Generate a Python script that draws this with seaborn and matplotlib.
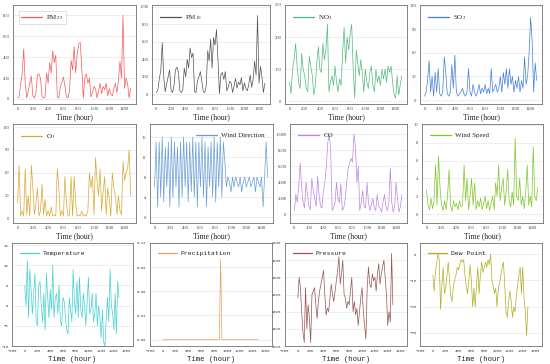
import numpy as np
import pandas as pd
import matplotlib
matplotlib.use("Agg")
import matplotlib.pyplot as plt
import seaborn as sns
from matplotlib.ticker import AutoMinorLocator

hours = list(range(0, 1500, 20))

pm25 = [10, 20, 150, 240, 480, 150, 10, 80, 150, 220, 30, 10, 60, 230, 240, 200, 30, 10, 20, 250,
        150, 350, 250, 460, 350, 420, 20, 10, 120, 160, 210, 120, 20, 10, 80, 370, 280, 500, 250, 420,
        530, 540, 300, 10, 200, 240, 150, 200, 20, 60, 120, 100, 10, 80, 150, 50, 120, 90, 150, 30,
        100, 50, 30, 100, 150, 60, 180, 360, 200, 800, 100, 200, 150, 10, 100]
pm10 = [20, 50, 180, 270, 590, 200, 30, 120, 200, 280, 50, 20, 100, 280, 310, 250, 40, 20, 50, 300,
        200, 400, 300, 530, 420, 470, 30, 20, 150, 200, 260, 150, 30, 20, 100, 500, 380, 630, 300, 650,
        560, 740, 400, 10, 220, 250, 170, 260, 40, 80, 150, 130, 20, 100, 180, 70, 140, 110, 190, 40,
        130, 70, 40, 110, 220, 80, 170, 380, 220, 900, 130, 320, 200, 20, 130]
no2 = [60, 25, 100, 130, 180, 110, 60, 40, 150, 100, 80, 40, 30, 140, 110, 80, 20, 50, 120, 170,
       100, 90, 180, 130, 160, 240, 30, 60, 80, 50, 110, 60, 30, 70, 50, 150, 230, 120, 200, 160,
       210, 240, 100, 10, 160, 120, 80, 130, 90, 30, 100, 60, 40, 90, 110, 50, 30, 100, 60, 80,
       50, 100, 70, 100, 60, 110, 90, 110, 60, 20, 10, 80, 20, 50, 80]
so2 = [5, 10, 25, 50, 10, 30, 5, 35, 10, 40, 8, 5, 10, 55, 35, 8, 5, 10, 45, 15,
       57, 10, 5, 8, 10, 15, 8, 5, 10, 40, 10, 5, 20, 10, 5, 10, 20, 8, 15, 10,
       20, 8, 15, 8, 40, 10, 15, 20, 10, 15, 30, 10, 35, 20, 40, 15, 40, 20, 30, 10,
       25, 15, 30, 10, 25, 15, 55, 20, 30, 60, 105, 75, 10, 47, 25]
o3 = [20, 70, 3, 10, 3, 65, 5, 30, 3, 70, 40, 5, 20, 40, 3, 10, 45, 5, 25, 3,
      10, 3, 15, 3, 5, 3, 65, 40, 3, 10, 3, 55, 20, 3, 5, 55, 3, 55, 20, 3,
      5, 3, 10, 3, 5, 3, 10, 60, 40, 55, 5, 80, 50, 30, 65, 10, 35, 55, 5, 40,
      25, 3, 60, 40, 30, 5, 30, 10, 5, 75, 50, 60, 65, 90, 30]
wind_dir = [6, 15, 2, 15, 4, 16, 3, 14, 6, 15, 2, 16, 4, 15, 6, 14, 2, 15, 4, 16,
            6, 15, 3, 15, 5, 16, 4, 15, 2, 15, 6, 16, 4, 15, 2, 14, 6, 15, 4, 16,
            3, 15, 6, 16, 4, 15, 11, 6, 8, 7, 5, 8, 6, 8, 7, 6, 8, 5, 7, 8,
            6, 7, 8, 6, 7, 8, 5, 8, 7, 6, 8, 2, 8, 15, 8]
co = [500, 2500, 1500, 3500, 6400, 3500, 1500, 800, 4000, 2500, 1000, 600, 4500, 3000, 2000, 1000, 4800, 2500, 1000, 800,
      3000, 4000, 6000, 9000, 10000, 8000, 500, 800, 1500, 4000, 2000, 1500, 3800, 500, 800, 2000, 4000, 5700, 6500, 7000,
      6500, 10000, 8500, 4000, 6000, 500, 1500, 3000, 1000, 800, 4000, 1500, 500, 1200, 2000, 800, 500, 2500, 1000, 800,
      300, 1500, 2500, 1000, 500, 1500, 5800, 1500, 300, 1000, 4000, 2000, 300, 1000, 2500]
wind_speed = [2.7, 1.0, 0.5, 1.8, 0.6, 1.5, 5.5, 1.0, 6.5, 3.0, 1.0, 0.4, 1.5, 0.5, 2.0, 5.0, 1.0, 0.3, 1.5, 0.8,
              1.2, 0.5, 1.5, 0.8, 1.0, 5.5, 1.5, 4.0, 0.5, 2.0, 4.0, 1.0, 3.5, 0.5, 1.5, 0.8, 1.8, 0.5, 1.2, 2.0,
              0.6, 1.5, 0.4, 1.2, 2.0, 0.5, 3.5, 2.0, 5.5, 1.5, 3.0, 4.0, 1.0, 2.5, 5.0, 1.5, 0.8, 2.5, 1.0, 8.5,
              2.0, 1.5, 4.0, 1.0, 2.0, 0.6, 2.5, 5.5, 1.0, 2.0, 0.8, 7.5, 2.0, 1.5, 3.0]
temperature = [5, 0, 11, -3, 9, 4, -2, 3, 8, -4, -5, 5, 6, 0, -4, 3, -6, 8, 2, -3,
               4, -1, 10, -3, 2, 3, -2, 5, -4, -5, 2, 1, -3, -6, -7, 2, -1, -4, 9, 1,
               -2, 6, -3, 7, -1, -3, 3, 0, -5, 1, 7, -2, -1, 3, -4, -2, 3, -5, 0, -3,
               -8, -1, -9, -10, -3, 2, -4, 9, 0, -2, -6, 3, -7, 6, 2]
precipitation = [0.0] * 45 + [0.1] + [0.0] * 29
pressure = [1024, 1030, 1027, 1020, 1014, 1011, 1027, 1015, 1022, 1018, 1011, 1025, 1026, 1027, 1022, 1018, 1023, 1026, 1028, 1030,
            1032, 1025, 1019, 1021, 1020, 1024, 1028, 1025, 1023, 1026, 1029, 1032, 1036, 1028, 1031, 1035, 1025, 1024, 1021, 1023,
            1022, 1026, 1030, 1020, 1023, 1019, 1021, 1016, 1020, 1024, 1027, 1020, 1016, 1012, 1027, 1033, 1028, 1027, 1031, 1029,
            1030, 1026, 1031, 1034, 1028, 1031, 1033, 1035, 1030, 1025, 1016, 1020, 1017, 1037, 1022]
dew_point = [-8, -14, -7, -3, 0, -2, -21, -12, -5, -15, -13, -8, -3, -10, -16, -18, -12, -10, -8, -5,
             -6, -4, -2, -3, -2, -8, -12, -15, -10, -4, -10, -20, -13, -20, -12, -5, -15, -8, -3, -7,
             -5, -3, -5, -2, -4, 0, -10, -12, -15, -13, -20, -13, -11, -8, -5, -3, -12, -22, -24, -18,
             -14, -18, -24, -20, -22, -16, -12, -8, -5, -15, -5, -17, -22, -31, -20]

labels = ["PM$_{2.5}$", "PM$_{10}$", "NO$_2$", "SO$_2$", "O$_3$", "Wind Direction", "CO", "Wind Speed",
          "Temperature", "Precipitation", "Pressure", "Dew Point"]
series = [pm25, pm10, no2, so2, o3, wind_dir, co, wind_speed, temperature, precipitation, pressure, dew_point]
colors = ["#f04848", "#404040", "#3cb371", "#3070d8", "#d4a020", "#5a92d0", "#b47ae0", "#70c010",
          "#30cccc", "#f29040", "#8b4040", "#a8a410"]
yticks = [[0, 200, 400, 600, 800], [0, 200, 400, 600, 800, 1000], [0, 100, 200, 300], [0, 30, 60, 90, 120],
          [0, 30, 60, 90, 120], [0, 4, 8, 12, 16], [0, 2000, 4000, 6000, 8000, 10000], [0, 2, 4, 6, 8, 10],
          [-10, -5, 0, 5, 10, 15], [0.0, 0.03, 0.06, 0.09, 0.12], [1010, 1015, 1020, 1025, 1030, 1035, 1040],
          [-30, -20, -10, 0]]
ylims = [(-48, 900), (-110, 1020), (-8, 300), (-5, 121), (-6, 124), (-1.2, 18.6), (-1070, 11300), (-1.0, 10.1),
         (-10, 15.5), (-0.008, 0.12), (1010, 1040), (-35, 4.3)]

W, H = 550, 364
cols = [[(13, 136), (152, 270), (285, 407), (420, 542)],
        [(13, 136), (150, 273), (290, 407), (422, 543)],
        [(12, 133), (150, 272), (285, 407), (420, 542)]]
rows = [(5, 104), (124, 223), (243, 346)]

sns.set_theme(style="white")
plt.rcParams["font.family"] = ["Liberation Serif", "DejaVu Serif"]
plt.rcParams["mathtext.fontset"] = "stix"
fig = plt.figure(figsize=(5.5, 3.64), dpi=100)
fig.patch.set_facecolor("white")

for k in range(12):
    r, c = divmod(k, 4)
    x0, x1 = cols[r][c]
    y0, y1 = rows[r]
    ax = fig.add_axes([x0 / W, 1 - y1 / H, (x1 - x0) / W, (y1 - y0) / H])
    df = pd.DataFrame({"hour": hours, "value": series[k]})
    mono = r == 2
    fam = ["Liberation Mono", "DejaVu Sans Mono"] if mono else ["Liberation Serif", "DejaVu Serif"]
    sns.lineplot(data=df, x="hour", y="value", ax=ax, color=colors[k], linewidth=0.5, alpha=0.9,
                 label=labels[k])
    ax.set_ylim(*ylims[k])
    ax.set_yticks(yticks[k])
    if r == 2:
        ax.set_xlim(-200, 1700)
        ax.set_xticks(range(-200, 1601, 200))
    else:
        ax.set_xlim(-60, 1550)
        ax.set_xticks(range(0, 1401, 200))
    if k == 9:
        ax.set_yticklabels([f"{v:.2f}" for v in yticks[k]])
    ax.xaxis.set_minor_locator(AutoMinorLocator(2))
    ax.grid(axis="y", color="#e8e8e8", linewidth=0.5)
    ax.set_axisbelow(True)
    for s in ax.spines.values():
        s.set_color("#707070")
        s.set_linewidth(0.6)
    lsize = 2.8 if mono else 3.3
    ax.tick_params(axis="both", which="major", labelsize=lsize, length=1.5, width=0.4, pad=1,
                   colors="#444444", direction="out")
    ax.tick_params(axis="x", which="minor", length=1, width=0.3, direction="out")
    for t in ax.get_xticklabels() + ax.get_yticklabels():
        t.set_family(fam)
    ax.set_xlabel("Time (hour)", fontsize=5.2 if mono else 5.5, family=fam, labelpad=1.5, color="#222222")
    ax.set_ylabel("")
    loc = "upper right" if k == 5 else "upper left"
    leg = ax.legend(loc=loc, frameon=(k == 0), handlelength=3.0, borderaxespad=0.9,
                    borderpad=0.3, handletextpad=0.6,
                    prop={"family": fam, "size": 4.6 if mono else 5})
    if k == 0:
        leg.get_frame().set_edgecolor("#bbbbbb")
        leg.get_frame().set_linewidth(0.4)
        leg.get_frame().set_boxstyle("square", pad=0.0)
    for line in leg.get_lines():
        line.set_linewidth(0.9)

fig.savefig("out.png", dpi=100, facecolor="white")
